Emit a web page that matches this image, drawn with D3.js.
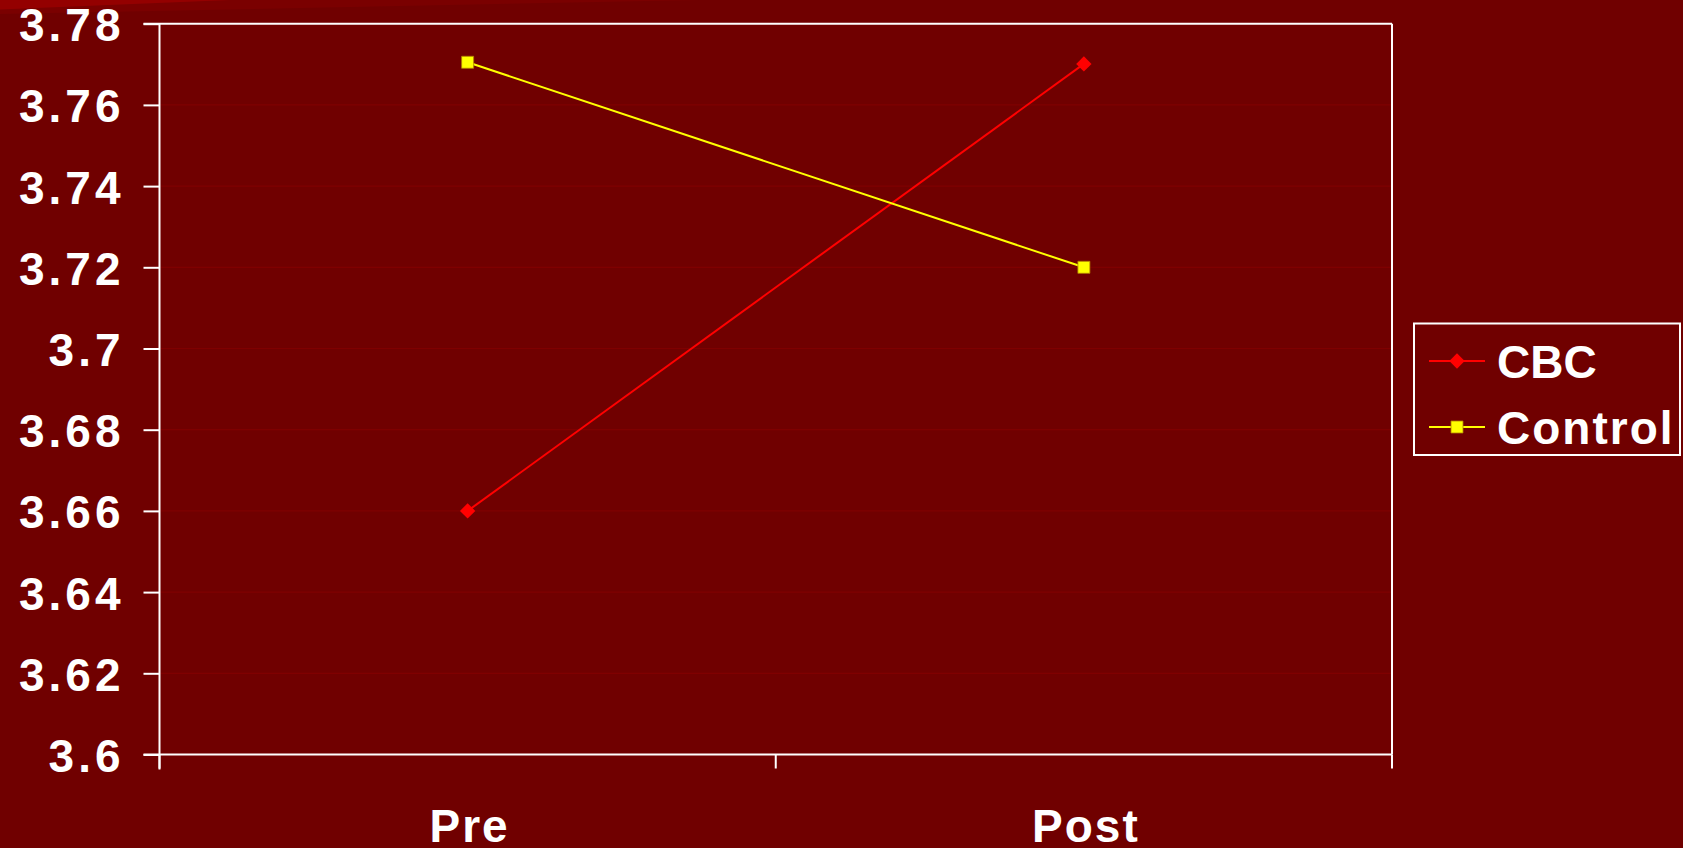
<!DOCTYPE html>
<html>
<head>
<meta charset="utf-8">
<script src="https://cdn.jsdelivr.net/npm/d3@7"></script>
<style>
html,body{margin:0;padding:0;background:#700000;overflow:hidden;}
svg{display:block;}
text{font-family:"Liberation Sans",Arial,sans-serif;font-weight:bold;fill:#fff;}
</style>
</head>
<body>
<svg id="chart" width="1683" height="848"></svg>
<script>
const categories = ["Pre", "Post"];
const cbcValues = [3.66, 3.7701];
const controlValues = [3.7705, 3.72];
const yTicks = [3.6, 3.62, 3.64, 3.66, 3.68, 3.7, 3.72, 3.74, 3.76, 3.78];
const yTickLabels = ["3.6", "3.62", "3.64", "3.66", "3.68", "3.7", "3.72", "3.74", "3.76", "3.78"];
const seriesNames = ["CBC", "Control"];
const seriesColors = ["#ff0000", "#ffff00"];

const W = 1683, H = 848;
const m = {left: 159.5, right: 1392, top: 23.7, bottom: 754.5};
const svg = d3.select("#chart");

// background + decorative wedge top-left
svg.append("rect").attr("width", W).attr("height", H).attr("fill", "#700000");
svg.append("path").attr("d", "M0,0 L700,0 L0,14 Z").attr("fill", "#7a0000");
svg.append("path").attr("d", "M0,0 L230,0 L0,9.5 Z").attr("fill", "#940000");

const x = d3.scaleBand().domain(categories).range([m.left, m.right]).padding(0);
const y = d3.scaleLinear().domain([3.6, 3.78]).range([m.bottom, m.top]);

// gridlines
svg.append("g").selectAll("line").data(yTicks.slice(1, -1)).join("line")
  .attr("x1", m.left).attr("x2", m.right)
  .attr("y1", d => y(d)).attr("y2", d => y(d))
  .attr("stroke", "#7f0000").attr("stroke-width", 1.2);

// frame top/right
svg.append("line").attr("x1", m.left - 16).attr("x2", m.right).attr("y1", m.top).attr("y2", m.top)
  .attr("stroke", "#fff").attr("stroke-width", 2);
svg.append("line").attr("x1", m.right).attr("x2", m.right).attr("y1", m.top).attr("y2", m.bottom)
  .attr("stroke", "#fff").attr("stroke-width", 2);

// y axis
const yAxis = d3.axisLeft(y).tickValues(yTicks).tickSize(16).tickPadding(19)
  .tickFormat((d, i) => yTickLabels[i]);
const gy = svg.append("g").attr("transform", `translate(${m.left},0)`).call(yAxis);
gy.select(".domain").attr("stroke", "#fff").attr("stroke-width", 2).attr("d", `M0,${m.top}V${m.bottom + 15}`);
gy.selectAll(".tick line").attr("stroke", "#fff").attr("stroke-width", 2);
gy.selectAll(".tick text").attr("fill", "#fff").style("font-size", "46px").style("letter-spacing", "4px")
  .attr("dy", "0.37em").attr("font-family", null);

// x axis: ticks at band boundaries
const boundaries = [m.left].concat(categories.map(c => x(c) + x.bandwidth()));
const gx = svg.append("g");
gx.append("line").attr("x1", m.left - 16).attr("x2", m.right).attr("y1", m.bottom).attr("y2", m.bottom)
  .attr("stroke", "#fff").attr("stroke-width", 2);
gx.selectAll(".xt").data(boundaries).join("line").attr("class", "xt")
  .attr("x1", d => d).attr("x2", d => d).attr("y1", m.bottom).attr("y2", m.bottom + 14)
  .attr("stroke", "#fff").attr("stroke-width", 2);
gx.selectAll(".xl").data(categories).join("text").attr("class", "xl")
  .attr("x", d => x(d) + x.bandwidth() / 2 + 2).attr("y", 842)
  .attr("text-anchor", "middle").style("font-size", "46px").style("letter-spacing", "2px")
  .text(d => d);

// series
const series = [cbcValues, controlValues];
const line = d3.line().x((d, i) => x(categories[i]) + x.bandwidth() / 2).y(d => y(d));
const diamond = d3.symbol().type(d3.symbolDiamond2).size(150);
const square = d3.symbol().type(d3.symbolSquare).size(144);
series.forEach((vals, si) => {
  svg.append("path").datum(vals).attr("d", line).attr("fill", "none")
    .attr("stroke", seriesColors[si]).attr("stroke-width", 2);
  svg.append("g").selectAll("path").data(vals).join("path")
    .attr("transform", (d, i) => `translate(${x(categories[i]) + x.bandwidth() / 2},${y(d)})`)
    .attr("d", si === 0 ? diamond : square)
    .attr("fill", seriesColors[si])
    .attr("stroke", si === 0 ? "none" : "#b08000").attr("stroke-width", 0.8);
});

// legend
const lg = svg.append("g");
lg.append("rect").attr("x", 1414).attr("y", 323.5).attr("width", 266).attr("height", 131.5)
  .attr("fill", "none").attr("stroke", "#fff").attr("stroke-width", 2);
const rowsY = [361, 427];
seriesNames.forEach((name, si) => {
  lg.append("line").attr("x1", 1429).attr("x2", 1485).attr("y1", rowsY[si]).attr("y2", rowsY[si])
    .attr("stroke", seriesColors[si]).attr("stroke-width", 2);
  lg.append("path").attr("transform", `translate(1457,${rowsY[si]})`)
    .attr("d", si === 0 ? diamond : square).attr("fill", seriesColors[si])
    .attr("stroke", si === 0 ? "none" : "#b08000").attr("stroke-width", 0.8);
  lg.append("text").attr("x", 1497).attr("y", rowsY[si]).attr("dy", "0.36em")
    .style("font-size", "46px").style("letter-spacing", si === 0 ? "0px" : "2px").text(name);
});
</script>
</body>
</html>
